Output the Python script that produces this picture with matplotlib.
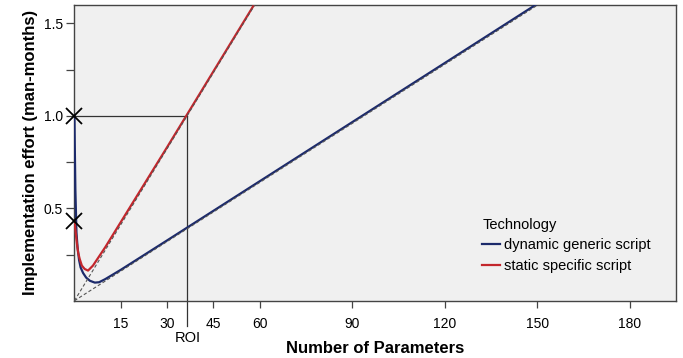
import numpy as np
import matplotlib
matplotlib.use("Agg")
import matplotlib.pyplot as plt

plt.rcParams["font.family"] = ["Liberation Sans", "DejaVu Sans"]

# curves (x = number of parameters, y = man-months)
dyn_x = [0.0, 0.1, 0.3, 0.65, 1.0, 1.5, 2.0, 2.8, 3.8, 5.0, 6.6, 8.0, 10.0, 15.0, 30.0, 60.0, 90.0, 120.0, 152.0]
dyn_y = [1.0, 0.85, 0.6, 0.37, 0.29, 0.22, 0.18, 0.15, 0.125, 0.108, 0.098, 0.1, 0.117, 0.167, 0.326, 0.646, 0.966, 1.286, 1.628]
sta_x = [0.0, 0.2, 0.4, 0.8, 1.2, 1.7, 2.4, 3.3, 4.4, 6.0, 8.0, 10.0, 15.0, 30.0, 45.0, 60.0]
sta_y = [0.43, 0.40, 0.37, 0.31, 0.26, 0.226, 0.19, 0.172, 0.163, 0.19, 0.24, 0.29, 0.425, 0.83, 1.24, 1.65]

# asymptotes (dashed)
dyn_asym_x = [0.0, 152.0]
dyn_asym_y = [0.0, 1.62]
sta_asym_x = [0.0, 60.0]
sta_asym_y = [0.0, 1.644]

roi_x = 36.6
start_marks_x = [0.0, 0.0]
start_marks_y = [1.0, 0.43]

xticks = [15, 30, 45, 60, 90, 120, 150, 180]
yticks = [0.25, 0.5, 0.75, 1.0, 1.25, 1.5]
ylabels = ["", "0.5", "", "1.0", "", "1.5"]

blue = "#1c2a6b"
red = "#c3262c"

fig = plt.figure(figsize=(6.83, 3.58), dpi=100)
ax = fig.add_axes([0.109, 0.16, 0.881, 0.826])
ax.set_facecolor("#f0f0f0")

ax.plot([0, roi_x], [1.0, 1.0], color="#333333", lw=0.9, zorder=2)
ax.plot([roi_x, roi_x], [1.0, -0.135], color="#333333", lw=0.9, zorder=2, clip_on=False)

ax.plot(dyn_x, dyn_y, color=blue, lw=1.6, label="dynamic generic script", zorder=3)
ax.plot(sta_x, sta_y, color=red, lw=1.6, label="static specific script", zorder=3)
ax.plot(dyn_asym_x, dyn_asym_y, color="#555555", ls=(0, (3, 2)), lw=0.8, zorder=4)
ax.plot(sta_asym_x, sta_asym_y, color="#555555", ls=(0, (3, 2)), lw=0.8, zorder=4)

ax.plot(start_marks_x, start_marks_y, "x", color="black", ms=12, mew=1.3,
        clip_on=False, zorder=5)

ax.set_xlim(0, 195)
ax.set_ylim(0, 1.6)
ax.set_xticks(xticks)
ax.set_yticks(yticks)
ax.set_yticklabels(ylabels)
ax.tick_params(axis="x", labelsize=10, color="#444444", length=5, width=0.9, pad=7)
ax.tick_params(axis="y", labelsize=10, color="#444444", length=6, width=0.9, pad=2.5)
ax.text(roi_x, -0.2, "ROI", ha="center", va="center", fontsize=10.5)
for s in ax.spines.values():
    s.set_color("#444444")
    s.set_linewidth(1.0)

ax.set_xlabel("Number of Parameters", fontsize=12, fontweight="bold", labelpad=7)
ax.set_ylabel("Implementation effort (man-months)", fontsize=12, fontweight="bold", labelpad=4)

leg = ax.legend(title="Technology", loc="upper left", bbox_to_anchor=(0.668, 0.3),
                frameon=False, fontsize=10.5, title_fontsize=10.5, handlelength=1.2,
                handletextpad=0.3, borderaxespad=0, labelspacing=0.45)
leg._legend_box.align = "left"

fig.savefig("out.png", dpi=100)
